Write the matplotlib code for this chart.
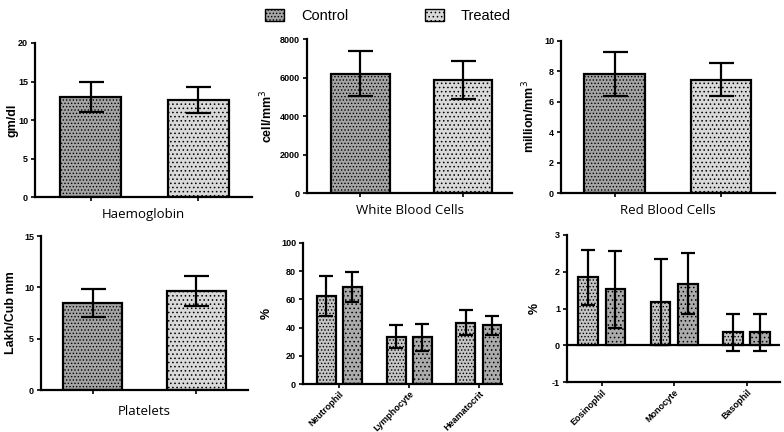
import numpy as np
import matplotlib.pyplot as plt
from matplotlib.patches import Patch

plt.rcParams['font.family'] = ['Liberation Sans', 'DejaVu Sans']
plt.rcParams['hatch.linewidth'] = 0.6
plt.rcParams['axes.unicode_minus'] = False

# --- data (mean, error) ---
single_names = ['Haemoglobin', 'White Blood Cells', 'Red Blood Cells', 'Platelets']
single_units = ['gm/dl', 'cell/mm$^3$', 'million/mm$^3$', 'Lakh/Cub mm']
single_ctrl = [13.0, 6200, 7.85, 8.45]
single_ctrl_err = [1.95, 1170, 1.45, 1.35]
single_trt = [12.6, 5870, 7.45, 9.65]
single_trt_err = [1.65, 975, 1.1, 1.5]
single_ticks = [[0, 5, 10, 15, 20], [0, 2000, 4000, 6000, 8000],
                [0, 2, 4, 6, 8, 10], [0, 5, 10, 15]]

dlc_names = ['Neutrophil', 'Lymphocyte', 'Heamatocrit']
dlc_ctrl = [62.5, 33.5, 43.5]
dlc_ctrl_err = [14, 8, 9]
dlc_trt = [69, 33, 41.5]
dlc_trt_err = [10.5, 9.5, 7]

minor_names = ['Eosinophil', 'Monocyte', 'Basophil']
minor_ctrl = [1.85, 1.18, 0.35]
minor_ctrl_err = [0.75, 1.17, 0.5]
minor_trt = [1.52, 1.68, 0.35]
minor_trt_err = [1.05, 0.82, 0.5]

ctrl_color = '#a4a4a4'
trt_color = '#d9d9d9'

fig = plt.figure(figsize=(7.84, 4.32), dpi=100)
W, H = 784, 432


def add_ax(l, t, r, b):
    return fig.add_axes([l / W, 1 - b / H, (r - l) / W, (b - t) / H])


def style(ax):
    for s in ['top', 'right']:
        ax.spines[s].set_visible(False)
    for s in ['left', 'bottom']:
        ax.spines[s].set_linewidth(1.6)
    ax.tick_params(width=1.2, length=3, pad=2, labelsize=6.5)
    for lab in ax.get_yticklabels():
        lab.set_fontweight('bold')


boxes = [(35, 43, 252, 197), (307, 39, 512, 193), (561, 41, 775, 193), (41, 236, 248, 390)]
xlims = [(-0.52, 1.5), (-0.52, 1.48), (-0.505, 1.51), (-0.5, 1.5)]
ylab_x = [-0.074, -0.156, -0.112, -0.116]
xlab_pad = [3, 3, 3, 6]
for i in range(4):
    ax = add_ax(*boxes[i])
    ax.bar(0, single_ctrl[i], 0.57, color=ctrl_color, edgecolor='black', linewidth=1.6,
           hatch='.....', zorder=2)
    ax.bar(1, single_trt[i], 0.57, color=trt_color, edgecolor='black', linewidth=1.6,
           hatch='....', zorder=2)
    ax.errorbar([0, 1], [single_ctrl[i], single_trt[i]],
                yerr=[single_ctrl_err[i], single_trt_err[i]], fmt='none',
                ecolor='black', elinewidth=1.6, capsize=9, capthick=1.6, zorder=3)
    ax.set_xlim(*xlims[i])
    ax.set_ylim(single_ticks[i][0], single_ticks[i][-1])
    ax.set_yticks(single_ticks[i])
    ax.set_xticks([0, 1])
    ax.set_xticklabels([])
    ax.set_ylabel(single_units[i], fontsize=9, fontweight='bold')
    ax.yaxis.set_label_coords(ylab_x[i], 0.5)
    ax.set_xlabel(single_names[i], fontsize=9.5, labelpad=xlab_pad[i],
                  family=['Open Sans', 'DejaVu Sans'])
    style(ax)

# differential counts
for names, c, ce, t, te, box, lim, ticks, lx in [
        (dlc_names, dlc_ctrl, dlc_ctrl_err, dlc_trt, dlc_trt_err,
         (303, 243, 502, 384), (-0.52, 2.33), [0, 20, 40, 60, 80, 100], -0.15),
        (minor_names, minor_ctrl, minor_ctrl_err, minor_trt, minor_trt_err,
         (567, 235, 780, 382), (-0.48, 2.46), [-1, 0, 1, 2, 3], -0.122)]:
    ax = add_ax(*box)
    x = np.arange(len(names))
    off = 0.187
    w = 0.27
    ax.bar(x - off, c, w, color='#c4c4c4', edgecolor='black', linewidth=1.6,
           hatch='.....', zorder=2)
    ax.bar(x + off, t, w, color='#ababab', edgecolor='black', linewidth=1.6,
           hatch='....', zorder=2)
    ax.errorbar(x - off, c, yerr=ce, fmt='none', ecolor='black', elinewidth=1.6,
                capsize=5, capthick=1.6, zorder=3)
    ax.errorbar(x + off, t, yerr=te, fmt='none', ecolor='black', elinewidth=1.6,
                capsize=5, capthick=1.6, zorder=3)
    ax.set_xlim(*lim)
    ax.set_ylim(ticks[0], ticks[-1])
    ax.set_yticks(ticks)
    ax.set_xticks(x)
    ax.set_xticklabels(names, rotation=45, ha='right', rotation_mode='anchor',
                       fontsize=5.5, fontweight='bold')
    ax.set_ylabel('%', fontsize=9, fontweight='bold')
    ax.yaxis.set_label_coords(lx, 0.5)
    if ticks[0] < 0:
        ax.axhline(0, color='black', linewidth=1.6, zorder=1)
    style(ax)
    ax.tick_params(axis='x', pad=1)

handles = [Patch(facecolor=ctrl_color, edgecolor='black', hatch='.....', label='Control'),
           Patch(facecolor=trt_color, edgecolor='black', hatch='....', label='Treated')]
fig.legend(handles=handles, loc='upper center', bbox_to_anchor=(0.495, 1.01), ncol=2,
           frameon=False, fontsize=10.5, handlelength=1.3, handleheight=0.9,
           columnspacing=5.2, handletextpad=1.2)

fig.savefig('out.png', dpi=100)
